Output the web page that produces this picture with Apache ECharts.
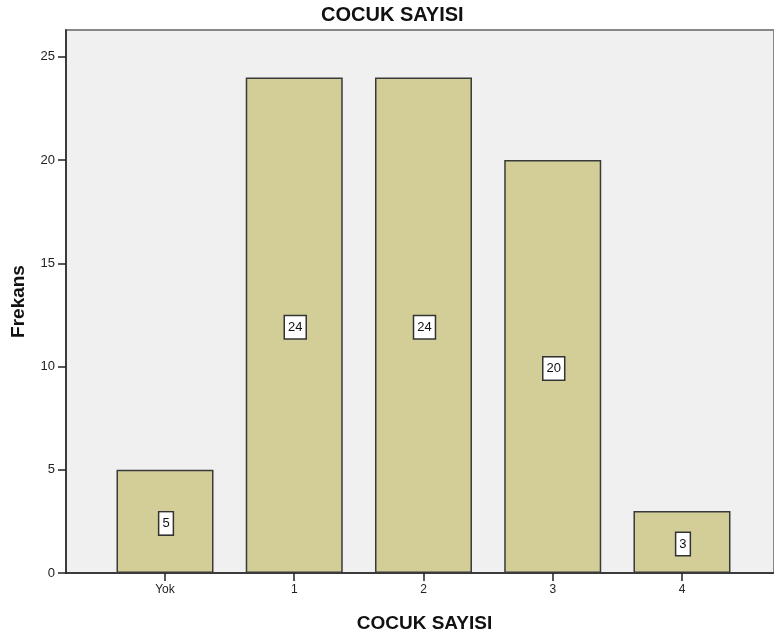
<!DOCTYPE html>
<html>
<head>
<meta charset="utf-8">
<script src="https://cdn.jsdelivr.net/npm/echarts@6/dist/echarts.min.js"></script>
<style>html,body{margin:0;padding:0;background:#fff}#c{width:774px;height:639px}</style>
</head>
<body>
<div id="c"></div>
<script>
const categories = ['Yok', '1', '2', '3', '4'];
const frequencies = [5, 24, 24, 20, 3];
const positions = [0, 1, 2, 3, 4];
const chartTitle = 'COCUK SAYISI';
const xName = 'COCUK SAYISI';
const yName = 'Frekans';

const FONT = '"Liberation Sans", Arial, sans-serif';
const chart = echarts.init(document.getElementById('c'), null, {renderer: 'canvas'});
chart.setOption({
  animation: false,
  backgroundColor: '#ffffff',
  title: {
    text: chartTitle,
    left: 316,
    top: 0,
    textStyle: {fontFamily: FONT, fontSize: 20, fontWeight: 'bold', color: '#111'}
  },
  grid: {
    left: 66, top: 30, right: 0, bottom: 66,
    show: true, backgroundColor: '#f0f0f0', borderColor: '#888888', borderWidth: 2
  },
  xAxis: {
    type: 'value',
    min: -0.766, max: 4.712,
    name: xName, nameLocation: 'middle', nameGap: 41,
    nameTextStyle: {fontFamily: FONT, fontSize: 19, fontWeight: 'bold', color: '#111', padding: [0, 0, 0, 9]},
    splitLine: {show: false},
    axisLine: {show: true, onZero: false, lineStyle: {color: '#222', width: 1.5}},
    axisTick: {show: true, length: 8, customValues: positions, lineStyle: {color: '#222', width: 1.5}},
    axisLabel: {
      customValues: positions,
      formatter: v => categories[Math.round(v)],
      fontFamily: FONT, fontSize: 12, color: '#222', margin: 11
    }
  },
  yAxis: {
    type: 'value',
    min: 0, max: 26.3, interval: 5,
    name: yName, nameLocation: 'middle', nameGap: 38, nameRotate: 90,
    nameTextStyle: {fontFamily: FONT, fontSize: 19, fontWeight: 'bold', color: '#111'},
    splitLine: {show: false},
    axisLine: {show: true, onZero: false, lineStyle: {color: '#222', width: 1.5}},
    axisTick: {show: true, length: 8, lineStyle: {color: '#222', width: 1.5}},
    axisLabel: {fontFamily: FONT, fontSize: 13, color: '#222', margin: 11, showMaxLabel: false}
  },
  series: [{
    type: 'bar',
    data: positions.map((p, i) => [p, frequencies[i]]),
    barWidth: 97,
    itemStyle: {color: '#d3ce97', borderColor: '#3a3a3a', borderWidth: 1.5},
    label: {
      show: true, position: 'inside', offset: [1, 2],
      fontFamily: FONT, fontSize: 13, color: '#111',
      backgroundColor: '#ffffff', borderColor: '#333', borderWidth: 1.5,
      padding: [5, 3, 4, 3]
    }
  }]
});
</script>
</body>
</html>
